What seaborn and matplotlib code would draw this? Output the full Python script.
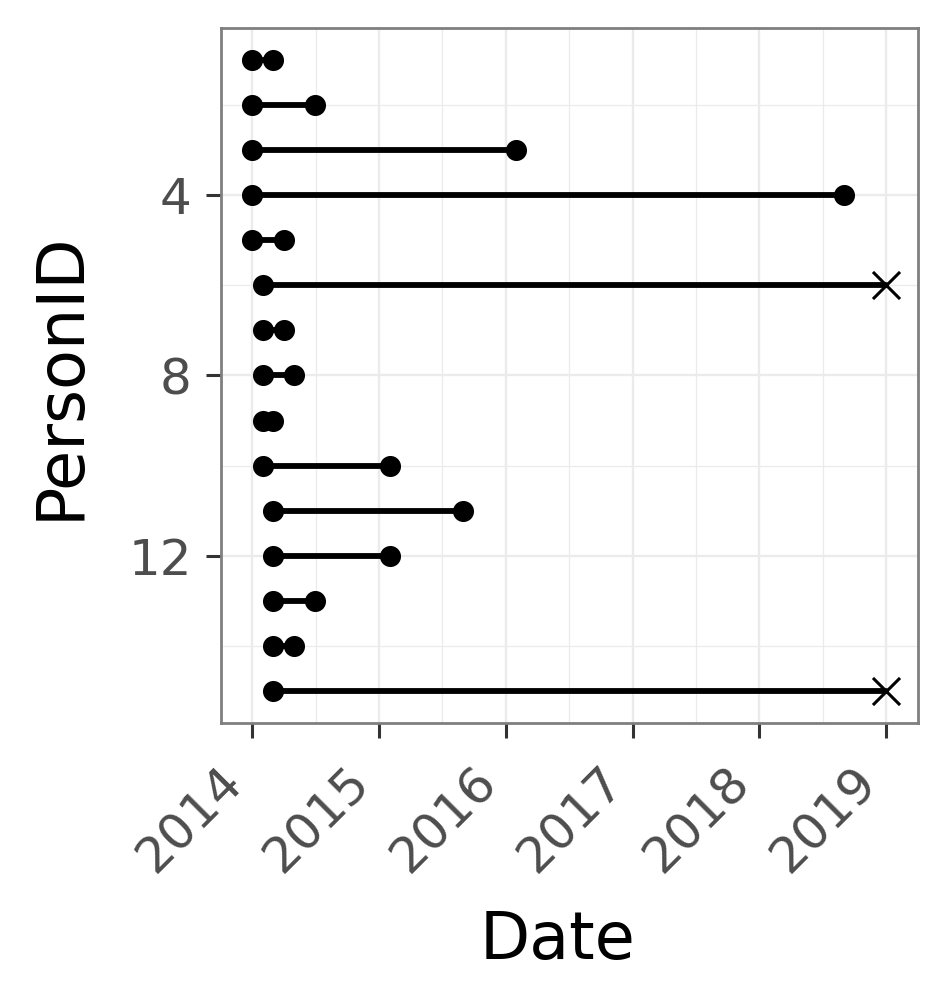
import matplotlib
matplotlib.use('Agg')
import matplotlib.pyplot as plt
import matplotlib.dates as mdates
import numpy as np
import pandas as pd
import seaborn as sns

# data
person_id = list(range(1, 16))
start_dates = ['2014-01-01', '2014-01-01', '2014-01-01', '2014-01-01', '2014-01-01',
               '2014-02-01', '2014-02-01', '2014-02-01', '2014-02-01', '2014-02-01',
               '2014-03-01', '2014-03-01', '2014-03-01', '2014-03-01', '2014-03-01']
end_dates = ['2014-03-01', '2014-07-01', '2016-02-01', '2018-09-01', '2014-04-01',
             '2019-01-01', '2014-04-01', '2014-05-01', '2014-03-01', '2015-02-01',
             '2015-09-01', '2015-02-01', '2014-07-01', '2014-05-01', '2019-01-01']
censored = [False, False, False, False, False,
            True, False, False, False, False,
            False, False, False, False, True]
year_ticks = ['2014-01-01', '2015-01-01', '2016-01-01', '2017-01-01', '2018-01-01', '2019-01-01']
year_labels = ['2014', '2015', '2016', '2017', '2018', '2019']
y_ticks = [4, 8, 12]
y_minor = [2, 6, 10, 14]

df = pd.DataFrame({'PersonID': person_id,
                   'Start': pd.to_datetime(start_dates),
                   'End': pd.to_datetime(end_dates),
                   'Censored': censored})
long = df.melt(id_vars=['PersonID', 'Censored'], value_vars=['Start', 'End'],
               var_name='Kind', value_name='Date')

sns.set_style('white')
plt.rcParams['font.family'] = ['DejaVu Sans']

fig = plt.figure(figsize=(9.48, 10.02), dpi=100)
ax = fig.add_axes([0.2328, 0.2789, 0.7352, 0.6928])

sns.lineplot(data=long, x='Date', y='PersonID', units='PersonID', estimator=None,
             color='black', lw=4.2, ax=ax, zorder=2)

circles = long[(long['Kind'] == 'Start') | (~long['Censored'])]
crosses = long[(long['Kind'] == 'End') & (long['Censored'])]
sns.scatterplot(data=circles, x='Date', y='PersonID', color='black', s=230,
                linewidth=0, ax=ax, zorder=3)
sns.scatterplot(data=crosses, x='Date', y='PersonID', color='black', marker='x',
                s=380, linewidth=2.2, ax=ax, zorder=3)

# ggplot-like 5% expansion
xt = mdates.date2num(pd.to_datetime(year_ticks))
span = xt[-1] - xt[0]
ax.set_xlim(xt[0] - 0.05 * span, xt[-1] + 0.05 * span)
ax.set_ylim(15.7, 0.3)

ax.set_xticks(xt)
ax.set_xticklabels(year_labels)
ax.set_xticks((xt[:-1] + xt[1:]) / 2, minor=True)
ax.set_yticks(y_ticks)
ax.set_yticks(y_minor, minor=True)

ax.grid(which='major', color='#EBEBEB', lw=1.7, zorder=0)
ax.grid(which='minor', color='#EBEBEB', lw=0.9, zorder=0)
ax.set_axisbelow(True)

for s in ax.spines.values():
    s.set_color('#7F7F7F')
    s.set_linewidth(2.0)

ax.tick_params(which='major', bottom=True, left=True, length=10.8, width=2.2,
               color='#333333', labelsize=36, labelcolor='#4D4D4D')
ax.tick_params(which='minor', length=0)
ax.tick_params(axis='y', pad=10)
ax.tick_params(axis='x', pad=15)
for lab in ax.get_xticklabels():
    lab.set_rotation(45)
    lab.set_ha('right')
    lab.set_va('top')
    lab.set_rotation_mode('default')

ax.set_xlabel('Date', fontsize=47, color='black')
ax.set_ylabel('PersonID', fontsize=47, color='black')
ax.xaxis.label.set_va('baseline')
ax.xaxis.set_label_coords(0.483, -0.3407)
ax.yaxis.label.set_rotation_mode('anchor')
ax.yaxis.label.set_ha('center')
ax.yaxis.label.set_va('baseline')
ax.yaxis.set_label_coords(-0.204, 0.5)

fig.savefig('out.png', dpi=100, facecolor='white')
